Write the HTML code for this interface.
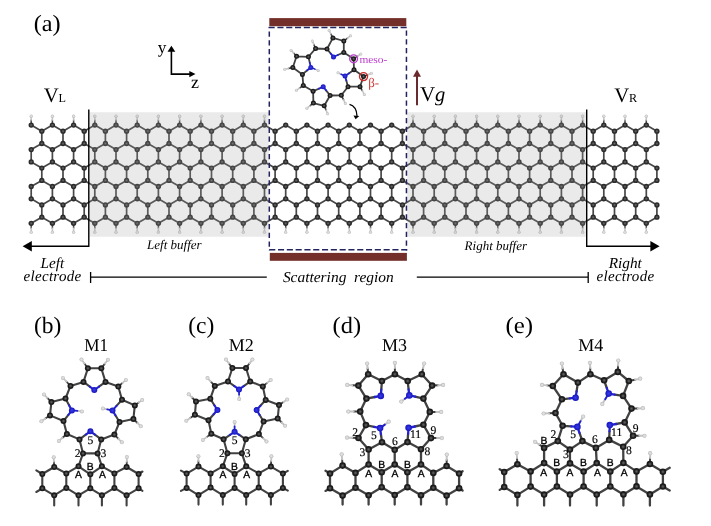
<!DOCTYPE html>
<html lang="en"><head><meta charset="utf-8"><title>Figure</title>
<style>
html,body{margin:0;padding:0;background:#fff}
body{width:711px;height:526px;overflow:hidden}
svg{display:block;will-change:transform}
text{white-space:pre;text-rendering:geometricPrecision}
.sf{font-family:"Liberation Serif",serif}
.ss{font-family:"Liberation Sans",sans-serif}
.it{font-style:italic}
.c circle{fill:url(#gc)}
.mm circle{fill:url(#gm)}
.nm circle{fill:url(#gn)}
.hm circle{fill:url(#gh)}
.mb circle{fill:url(#gm)}
.nb circle{fill:url(#gn)}
.hb circle{fill:url(#gh)}
.h circle{fill:url(#gh)}
.ms circle{fill:url(#gm)}
.ns circle{fill:url(#gn)}
.hs circle{fill:url(#gh)}
</style></head><body>
<svg width="711" height="526" viewBox="0 0 711 526" role="img" aria-label="Device schematic and molecule configurations M1 to M4">
<defs>
<radialGradient id="gc" cx="50%" cy="50%" r="50%"><stop offset="0" stop-color="#6c6c6c"/><stop offset="0.3" stop-color="#505050"/><stop offset="0.6" stop-color="#2c2c2c"/><stop offset="1" stop-color="#2a2a2a"/></radialGradient>
<radialGradient id="gm" cx="50%" cy="50%" r="50%"><stop offset="0" stop-color="#646464"/><stop offset="0.3" stop-color="#484848"/><stop offset="0.6" stop-color="#1e1e1e"/><stop offset="1" stop-color="#181818"/></radialGradient>
<radialGradient id="gn" cx="50%" cy="50%" r="50%"><stop offset="0" stop-color="#3a3af0"/><stop offset="1" stop-color="#1616b8"/></radialGradient>
<radialGradient id="gh" cx="50%" cy="50%" r="50%"><stop offset="0" stop-color="#e6e6e6"/><stop offset="0.55" stop-color="#d6d6d6"/><stop offset="1" stop-color="#b4b4b4"/></radialGradient>
</defs>
<rect width="711" height="526" fill="#fff"/>
<path d="M31.2 125.1L41.8 131.2M52.4 125.1L63 131.2M52.4 125.1L41.8 131.2M73.6 125.1L84.2 131.2M73.6 125.1L63 131.2M94.8 125.1L105.4 131.2M94.8 125.1L84.2 131.2M116 125.1L126.6 131.2M116 125.1L105.4 131.2M137.2 125.1L147.8 131.2M137.2 125.1L126.6 131.2M158.4 125.1L169 131.2M158.4 125.1L147.8 131.2M179.6 125.1L190.2 131.2M179.6 125.1L169 131.2M200.9 125.1L211.5 131.2M200.9 125.1L190.2 131.2M222.1 125.1L232.7 131.2M222.1 125.1L211.5 131.2M243.3 125.1L253.9 131.2M243.3 125.1L232.7 131.2M264.5 125.1L275.1 131.2M264.5 125.1L253.9 131.2M285.7 125.1L296.3 131.2M285.7 125.1L275.1 131.2M306.9 125.1L317.5 131.2M306.9 125.1L296.3 131.2M328.1 125.1L338.7 131.2M328.1 125.1L317.5 131.2M349.3 125.1L359.9 131.2M349.3 125.1L338.7 131.2M370.5 125.1L381.1 131.2M370.5 125.1L359.9 131.2M391.7 125.1L402.4 131.2M391.7 125.1L381.1 131.2M413 125.1L423.6 131.2M413 125.1L402.4 131.2M434.2 125.1L444.8 131.2M434.2 125.1L423.6 131.2M455.4 125.1L466 131.2M455.4 125.1L444.8 131.2M476.6 125.1L487.2 131.2M476.6 125.1L466 131.2M497.8 125.1L508.4 131.2M497.8 125.1L487.2 131.2M519 125.1L529.6 131.2M519 125.1L508.4 131.2M540.2 125.1L550.8 131.2M540.2 125.1L529.6 131.2M561.4 125.1L572 131.2M561.4 125.1L550.8 131.2M582.6 125.1L593.2 131.2M582.6 125.1L572 131.2M603.8 125.1L614.5 131.2M603.8 125.1L593.2 131.2M625 125.1L635.7 131.2M625 125.1L614.5 131.2M646.3 125.1L656.9 131.2M646.3 125.1L635.7 131.2M41.8 131.2L41.8 143.5M63 131.2L63 143.5M84.2 131.2L84.2 143.5M105.4 131.2L105.4 143.5M126.6 131.2L126.6 143.5M147.8 131.2L147.8 143.5M169 131.2L169 143.5M190.2 131.2L190.2 143.5M211.5 131.2L211.5 143.5M232.7 131.2L232.7 143.5M253.9 131.2L253.9 143.5M275.1 131.2L275.1 143.5M296.3 131.2L296.3 143.5M317.5 131.2L317.5 143.5M338.7 131.2L338.7 143.5M359.9 131.2L359.9 143.5M381.1 131.2L381.1 143.5M402.4 131.2L402.4 143.5M423.6 131.2L423.6 143.5M444.8 131.2L444.8 143.5M466 131.2L466 143.5M487.2 131.2L487.2 143.5M508.4 131.2L508.4 143.5M529.6 131.2L529.6 143.5M550.8 131.2L550.8 143.5M572 131.2L572 143.5M593.2 131.2L593.2 143.5M614.5 131.2L614.5 143.5M635.7 131.2L635.7 143.5M656.9 131.2L656.9 143.5M41.8 143.5L31.2 149.6M41.8 143.5L52.4 149.6M63 143.5L52.4 149.6M63 143.5L73.6 149.6M84.2 143.5L73.6 149.6M84.2 143.5L94.8 149.6M105.4 143.5L94.8 149.6M105.4 143.5L116 149.6M126.6 143.5L116 149.6M126.6 143.5L137.2 149.6M147.8 143.5L137.2 149.6M147.8 143.5L158.4 149.6M169 143.5L158.4 149.6M169 143.5L179.6 149.6M190.2 143.5L179.6 149.6M190.2 143.5L200.9 149.6M211.5 143.5L200.9 149.6M211.5 143.5L222.1 149.6M232.7 143.5L222.1 149.6M232.7 143.5L243.3 149.6M253.9 143.5L243.3 149.6M253.9 143.5L264.5 149.6M275.1 143.5L264.5 149.6M275.1 143.5L285.7 149.6M296.3 143.5L285.7 149.6M296.3 143.5L306.9 149.6M317.5 143.5L306.9 149.6M317.5 143.5L328.1 149.6M338.7 143.5L328.1 149.6M338.7 143.5L349.3 149.6M359.9 143.5L349.3 149.6M359.9 143.5L370.5 149.6M381.1 143.5L370.5 149.6M381.1 143.5L391.7 149.6M402.4 143.5L391.7 149.6M402.4 143.5L413 149.6M423.6 143.5L413 149.6M423.6 143.5L434.2 149.6M444.8 143.5L434.2 149.6M444.8 143.5L455.4 149.6M466 143.5L455.4 149.6M466 143.5L476.6 149.6M487.2 143.5L476.6 149.6M487.2 143.5L497.8 149.6M508.4 143.5L497.8 149.6M508.4 143.5L519 149.6M529.6 143.5L519 149.6M529.6 143.5L540.2 149.6M550.8 143.5L540.2 149.6M550.8 143.5L561.4 149.6M572 143.5L561.4 149.6M572 143.5L582.6 149.6M593.2 143.5L582.6 149.6M593.2 143.5L603.8 149.6M614.5 143.5L603.8 149.6M614.5 143.5L625 149.6M635.7 143.5L625 149.6M635.7 143.5L646.3 149.6M656.9 143.5L646.3 149.6M31.2 149.6L31.2 161.9M52.4 149.6L52.4 161.9M73.6 149.6L73.6 161.9M94.8 149.6L94.8 161.9M116 149.6L116 161.9M137.2 149.6L137.2 161.9M158.4 149.6L158.4 161.9M179.6 149.6L179.6 161.9M200.9 149.6L200.9 161.9M222.1 149.6L222.1 161.9M243.3 149.6L243.3 161.9M264.5 149.6L264.5 161.9M285.7 149.6L285.7 161.9M306.9 149.6L306.9 161.9M328.1 149.6L328.1 161.9M349.3 149.6L349.3 161.9M370.5 149.6L370.5 161.9M391.7 149.6L391.7 161.9M413 149.6L413 161.9M434.2 149.6L434.2 161.9M455.4 149.6L455.4 161.9M476.6 149.6L476.6 161.9M497.8 149.6L497.8 161.9M519 149.6L519 161.9M540.2 149.6L540.2 161.9M561.4 149.6L561.4 161.9M582.6 149.6L582.6 161.9M603.8 149.6L603.8 161.9M625 149.6L625 161.9M646.3 149.6L646.3 161.9M31.2 161.9L41.8 168.1M52.4 161.9L63 168.1M52.4 161.9L41.8 168.1M73.6 161.9L84.2 168.1M73.6 161.9L63 168.1M94.8 161.9L105.4 168.1M94.8 161.9L84.2 168.1M116 161.9L126.6 168.1M116 161.9L105.4 168.1M137.2 161.9L147.8 168.1M137.2 161.9L126.6 168.1M158.4 161.9L169 168.1M158.4 161.9L147.8 168.1M179.6 161.9L190.2 168.1M179.6 161.9L169 168.1M200.9 161.9L211.5 168.1M200.9 161.9L190.2 168.1M222.1 161.9L232.7 168.1M222.1 161.9L211.5 168.1M243.3 161.9L253.9 168.1M243.3 161.9L232.7 168.1M264.5 161.9L275.1 168.1M264.5 161.9L253.9 168.1M285.7 161.9L296.3 168.1M285.7 161.9L275.1 168.1M306.9 161.9L317.5 168.1M306.9 161.9L296.3 168.1M328.1 161.9L338.7 168.1M328.1 161.9L317.5 168.1M349.3 161.9L359.9 168.1M349.3 161.9L338.7 168.1M370.5 161.9L381.1 168.1M370.5 161.9L359.9 168.1M391.7 161.9L402.4 168.1M391.7 161.9L381.1 168.1M413 161.9L423.6 168.1M413 161.9L402.4 168.1M434.2 161.9L444.8 168.1M434.2 161.9L423.6 168.1M455.4 161.9L466 168.1M455.4 161.9L444.8 168.1M476.6 161.9L487.2 168.1M476.6 161.9L466 168.1M497.8 161.9L508.4 168.1M497.8 161.9L487.2 168.1M519 161.9L529.6 168.1M519 161.9L508.4 168.1M540.2 161.9L550.8 168.1M540.2 161.9L529.6 168.1M561.4 161.9L572 168.1M561.4 161.9L550.8 168.1M582.6 161.9L593.2 168.1M582.6 161.9L572 168.1M603.8 161.9L614.5 168.1M603.8 161.9L593.2 168.1M625 161.9L635.7 168.1M625 161.9L614.5 168.1M646.3 161.9L656.9 168.1M646.3 161.9L635.7 168.1M41.8 168.1L41.8 180.4M63 168.1L63 180.4M84.2 168.1L84.2 180.4M105.4 168.1L105.4 180.4M126.6 168.1L126.6 180.4M147.8 168.1L147.8 180.4M169 168.1L169 180.4M190.2 168.1L190.2 180.4M211.5 168.1L211.5 180.4M232.7 168.1L232.7 180.4M253.9 168.1L253.9 180.4M275.1 168.1L275.1 180.4M296.3 168.1L296.3 180.4M317.5 168.1L317.5 180.4M338.7 168.1L338.7 180.4M359.9 168.1L359.9 180.4M381.1 168.1L381.1 180.4M402.4 168.1L402.4 180.4M423.6 168.1L423.6 180.4M444.8 168.1L444.8 180.4M466 168.1L466 180.4M487.2 168.1L487.2 180.4M508.4 168.1L508.4 180.4M529.6 168.1L529.6 180.4M550.8 168.1L550.8 180.4M572 168.1L572 180.4M593.2 168.1L593.2 180.4M614.5 168.1L614.5 180.4M635.7 168.1L635.7 180.4M656.9 168.1L656.9 180.4M41.8 180.4L31.2 186.5M41.8 180.4L52.4 186.5M63 180.4L52.4 186.5M63 180.4L73.6 186.5M84.2 180.4L73.6 186.5M84.2 180.4L94.8 186.5M105.4 180.4L94.8 186.5M105.4 180.4L116 186.5M126.6 180.4L116 186.5M126.6 180.4L137.2 186.5M147.8 180.4L137.2 186.5M147.8 180.4L158.4 186.5M169 180.4L158.4 186.5M169 180.4L179.6 186.5M190.2 180.4L179.6 186.5M190.2 180.4L200.9 186.5M211.5 180.4L200.9 186.5M211.5 180.4L222.1 186.5M232.7 180.4L222.1 186.5M232.7 180.4L243.3 186.5M253.9 180.4L243.3 186.5M253.9 180.4L264.5 186.5M275.1 180.4L264.5 186.5M275.1 180.4L285.7 186.5M296.3 180.4L285.7 186.5M296.3 180.4L306.9 186.5M317.5 180.4L306.9 186.5M317.5 180.4L328.1 186.5M338.7 180.4L328.1 186.5M338.7 180.4L349.3 186.5M359.9 180.4L349.3 186.5M359.9 180.4L370.5 186.5M381.1 180.4L370.5 186.5M381.1 180.4L391.7 186.5M402.4 180.4L391.7 186.5M402.4 180.4L413 186.5M423.6 180.4L413 186.5M423.6 180.4L434.2 186.5M444.8 180.4L434.2 186.5M444.8 180.4L455.4 186.5M466 180.4L455.4 186.5M466 180.4L476.6 186.5M487.2 180.4L476.6 186.5M487.2 180.4L497.8 186.5M508.4 180.4L497.8 186.5M508.4 180.4L519 186.5M529.6 180.4L519 186.5M529.6 180.4L540.2 186.5M550.8 180.4L540.2 186.5M550.8 180.4L561.4 186.5M572 180.4L561.4 186.5M572 180.4L582.6 186.5M593.2 180.4L582.6 186.5M593.2 180.4L603.8 186.5M614.5 180.4L603.8 186.5M614.5 180.4L625 186.5M635.7 180.4L625 186.5M635.7 180.4L646.3 186.5M656.9 180.4L646.3 186.5M31.2 186.5L31.2 198.8M52.4 186.5L52.4 198.8M73.6 186.5L73.6 198.8M94.8 186.5L94.8 198.8M116 186.5L116 198.8M137.2 186.5L137.2 198.8M158.4 186.5L158.4 198.8M179.6 186.5L179.6 198.8M200.9 186.5L200.9 198.8M222.1 186.5L222.1 198.8M243.3 186.5L243.3 198.8M264.5 186.5L264.5 198.8M285.7 186.5L285.7 198.8M306.9 186.5L306.9 198.8M328.1 186.5L328.1 198.8M349.3 186.5L349.3 198.8M370.5 186.5L370.5 198.8M391.7 186.5L391.7 198.8M413 186.5L413 198.8M434.2 186.5L434.2 198.8M455.4 186.5L455.4 198.8M476.6 186.5L476.6 198.8M497.8 186.5L497.8 198.8M519 186.5L519 198.8M540.2 186.5L540.2 198.8M561.4 186.5L561.4 198.8M582.6 186.5L582.6 198.8M603.8 186.5L603.8 198.8M625 186.5L625 198.8M646.3 186.5L646.3 198.8M31.2 198.8L41.8 204.9M52.4 198.8L63 204.9M52.4 198.8L41.8 204.9M73.6 198.8L84.2 204.9M73.6 198.8L63 204.9M94.8 198.8L105.4 204.9M94.8 198.8L84.2 204.9M116 198.8L126.6 204.9M116 198.8L105.4 204.9M137.2 198.8L147.8 204.9M137.2 198.8L126.6 204.9M158.4 198.8L169 204.9M158.4 198.8L147.8 204.9M179.6 198.8L190.2 204.9M179.6 198.8L169 204.9M200.9 198.8L211.5 204.9M200.9 198.8L190.2 204.9M222.1 198.8L232.7 204.9M222.1 198.8L211.5 204.9M243.3 198.8L253.9 204.9M243.3 198.8L232.7 204.9M264.5 198.8L275.1 204.9M264.5 198.8L253.9 204.9M285.7 198.8L296.3 204.9M285.7 198.8L275.1 204.9M306.9 198.8L317.5 204.9M306.9 198.8L296.3 204.9M328.1 198.8L338.7 204.9M328.1 198.8L317.5 204.9M349.3 198.8L359.9 204.9M349.3 198.8L338.7 204.9M370.5 198.8L381.1 204.9M370.5 198.8L359.9 204.9M391.7 198.8L402.4 204.9M391.7 198.8L381.1 204.9M413 198.8L423.6 204.9M413 198.8L402.4 204.9M434.2 198.8L444.8 204.9M434.2 198.8L423.6 204.9M455.4 198.8L466 204.9M455.4 198.8L444.8 204.9M476.6 198.8L487.2 204.9M476.6 198.8L466 204.9M497.8 198.8L508.4 204.9M497.8 198.8L487.2 204.9M519 198.8L529.6 204.9M519 198.8L508.4 204.9M540.2 198.8L550.8 204.9M540.2 198.8L529.6 204.9M561.4 198.8L572 204.9M561.4 198.8L550.8 204.9M582.6 198.8L593.2 204.9M582.6 198.8L572 204.9M603.8 198.8L614.5 204.9M603.8 198.8L593.2 204.9M625 198.8L635.7 204.9M625 198.8L614.5 204.9M646.3 198.8L656.9 204.9M646.3 198.8L635.7 204.9M41.8 204.9L41.8 217.2M63 204.9L63 217.2M84.2 204.9L84.2 217.2M105.4 204.9L105.4 217.2M126.6 204.9L126.6 217.2M147.8 204.9L147.8 217.2M169 204.9L169 217.2M190.2 204.9L190.2 217.2M211.5 204.9L211.5 217.2M232.7 204.9L232.7 217.2M253.9 204.9L253.9 217.2M275.1 204.9L275.1 217.2M296.3 204.9L296.3 217.2M317.5 204.9L317.5 217.2M338.7 204.9L338.7 217.2M359.9 204.9L359.9 217.2M381.1 204.9L381.1 217.2M402.4 204.9L402.4 217.2M423.6 204.9L423.6 217.2M444.8 204.9L444.8 217.2M466 204.9L466 217.2M487.2 204.9L487.2 217.2M508.4 204.9L508.4 217.2M529.6 204.9L529.6 217.2M550.8 204.9L550.8 217.2M572 204.9L572 217.2M593.2 204.9L593.2 217.2M614.5 204.9L614.5 217.2M635.7 204.9L635.7 217.2M656.9 204.9L656.9 217.2M41.8 217.2L31.2 223.3M41.8 217.2L52.4 223.3M63 217.2L52.4 223.3M63 217.2L73.6 223.3M84.2 217.2L73.6 223.3M84.2 217.2L94.8 223.3M105.4 217.2L94.8 223.3M105.4 217.2L116 223.3M126.6 217.2L116 223.3M126.6 217.2L137.2 223.3M147.8 217.2L137.2 223.3M147.8 217.2L158.4 223.3M169 217.2L158.4 223.3M169 217.2L179.6 223.3M190.2 217.2L179.6 223.3M190.2 217.2L200.9 223.3M211.5 217.2L200.9 223.3M211.5 217.2L222.1 223.3M232.7 217.2L222.1 223.3M232.7 217.2L243.3 223.3M253.9 217.2L243.3 223.3M253.9 217.2L264.5 223.3M275.1 217.2L264.5 223.3M275.1 217.2L285.7 223.3M296.3 217.2L285.7 223.3M296.3 217.2L306.9 223.3M317.5 217.2L306.9 223.3M317.5 217.2L328.1 223.3M338.7 217.2L328.1 223.3M338.7 217.2L349.3 223.3M359.9 217.2L349.3 223.3M359.9 217.2L370.5 223.3M381.1 217.2L370.5 223.3M381.1 217.2L391.7 223.3M402.4 217.2L391.7 223.3M402.4 217.2L413 223.3M423.6 217.2L413 223.3M423.6 217.2L434.2 223.3M444.8 217.2L434.2 223.3M444.8 217.2L455.4 223.3M466 217.2L455.4 223.3M466 217.2L476.6 223.3M487.2 217.2L476.6 223.3M487.2 217.2L497.8 223.3M508.4 217.2L497.8 223.3M508.4 217.2L519 223.3M529.6 217.2L519 223.3M529.6 217.2L540.2 223.3M550.8 217.2L540.2 223.3M550.8 217.2L561.4 223.3M572 217.2L561.4 223.3M572 217.2L582.6 223.3M593.2 217.2L582.6 223.3M593.2 217.2L603.8 223.3M614.5 217.2L603.8 223.3M614.5 217.2L625 223.3M635.7 217.2L625 223.3M635.7 217.2L646.3 223.3M656.9 217.2L646.3 223.3" stroke="#484848" stroke-width="1.7" fill="none" stroke-linecap="round"/>
<path d="M31.2 125.1L31.2 120.1M31.2 223.3L31.2 228.3M52.4 125.1L52.4 120.1M52.4 223.3L52.4 228.3M73.6 125.1L73.6 120.1M73.6 223.3L73.6 228.3M94.8 125.1L94.8 120.1M94.8 223.3L94.8 228.3M116 125.1L116 120.1M116 223.3L116 228.3M137.2 125.1L137.2 120.1M137.2 223.3L137.2 228.3M158.4 125.1L158.4 120.1M158.4 223.3L158.4 228.3M179.6 125.1L179.6 120.1M179.6 223.3L179.6 228.3M200.9 125.1L200.9 120.1M200.9 223.3L200.9 228.3M222.1 125.1L222.1 120.1M222.1 223.3L222.1 228.3M243.3 125.1L243.3 120.1M243.3 223.3L243.3 228.3M264.5 125.1L264.5 120.1M264.5 223.3L264.5 228.3M285.7 223.3L285.7 228.3M306.9 223.3L306.9 228.3M328.1 223.3L328.1 228.3M349.3 223.3L349.3 228.3M370.5 223.3L370.5 228.3M391.7 223.3L391.7 228.3M413 125.1L413 120.1M413 223.3L413 228.3M434.2 125.1L434.2 120.1M434.2 223.3L434.2 228.3M455.4 125.1L455.4 120.1M455.4 223.3L455.4 228.3M476.6 125.1L476.6 120.1M476.6 223.3L476.6 228.3M497.8 125.1L497.8 120.1M497.8 223.3L497.8 228.3M519 125.1L519 120.1M519 223.3L519 228.3M540.2 125.1L540.2 120.1M540.2 223.3L540.2 228.3M561.4 125.1L561.4 120.1M561.4 223.3L561.4 228.3M582.6 125.1L582.6 120.1M582.6 223.3L582.6 228.3M603.8 125.1L603.8 120.1M603.8 223.3L603.8 228.3M625 125.1L625 120.1M625 223.3L625 228.3M646.3 125.1L646.3 120.1M646.3 223.3L646.3 228.3" stroke="#4a4a4a" stroke-width="1.5" fill="none" stroke-linecap="round"/>
<path d="M31.2 120.1L31.2 117.1M31.2 228.3L31.2 231.3M52.4 120.1L52.4 117.1M52.4 228.3L52.4 231.3M73.6 120.1L73.6 117.1M73.6 228.3L73.6 231.3M94.8 120.1L94.8 117.1M94.8 228.3L94.8 231.3M116 120.1L116 117.1M116 228.3L116 231.3M137.2 120.1L137.2 117.1M137.2 228.3L137.2 231.3M158.4 120.1L158.4 117.1M158.4 228.3L158.4 231.3M179.6 120.1L179.6 117.1M179.6 228.3L179.6 231.3M200.9 120.1L200.9 117.1M200.9 228.3L200.9 231.3M222.1 120.1L222.1 117.1M222.1 228.3L222.1 231.3M243.3 120.1L243.3 117.1M243.3 228.3L243.3 231.3M264.5 120.1L264.5 117.1M264.5 228.3L264.5 231.3M285.7 228.3L285.7 231.3M306.9 228.3L306.9 231.3M328.1 228.3L328.1 231.3M349.3 228.3L349.3 231.3M370.5 228.3L370.5 231.3M391.7 228.3L391.7 231.3M413 120.1L413 117.1M413 228.3L413 231.3M434.2 120.1L434.2 117.1M434.2 228.3L434.2 231.3M455.4 120.1L455.4 117.1M455.4 228.3L455.4 231.3M476.6 120.1L476.6 117.1M476.6 228.3L476.6 231.3M497.8 120.1L497.8 117.1M497.8 228.3L497.8 231.3M519 120.1L519 117.1M519 228.3L519 231.3M540.2 120.1L540.2 117.1M540.2 228.3L540.2 231.3M561.4 120.1L561.4 117.1M561.4 228.3L561.4 231.3M582.6 120.1L582.6 117.1M582.6 228.3L582.6 231.3M603.8 120.1L603.8 117.1M603.8 228.3L603.8 231.3M625 120.1L625 117.1M625 228.3L625 231.3M646.3 120.1L646.3 117.1M646.3 228.3L646.3 231.3" stroke="#c4c4c4" stroke-width="1.5" fill="none" stroke-linecap="round"/>
<g class="h"><circle cx="31.2" cy="116.2" r="1.6"/><circle cx="31.2" cy="232.2" r="1.6"/><circle cx="52.4" cy="116.2" r="1.6"/><circle cx="52.4" cy="232.2" r="1.6"/><circle cx="73.6" cy="116.2" r="1.6"/><circle cx="73.6" cy="232.2" r="1.6"/><circle cx="94.8" cy="116.2" r="1.6"/><circle cx="94.8" cy="232.2" r="1.6"/><circle cx="116" cy="116.2" r="1.6"/><circle cx="116" cy="232.2" r="1.6"/><circle cx="137.2" cy="116.2" r="1.6"/><circle cx="137.2" cy="232.2" r="1.6"/><circle cx="158.4" cy="116.2" r="1.6"/><circle cx="158.4" cy="232.2" r="1.6"/><circle cx="179.6" cy="116.2" r="1.6"/><circle cx="179.6" cy="232.2" r="1.6"/><circle cx="200.9" cy="116.2" r="1.6"/><circle cx="200.9" cy="232.2" r="1.6"/><circle cx="222.1" cy="116.2" r="1.6"/><circle cx="222.1" cy="232.2" r="1.6"/><circle cx="243.3" cy="116.2" r="1.6"/><circle cx="243.3" cy="232.2" r="1.6"/><circle cx="264.5" cy="116.2" r="1.6"/><circle cx="264.5" cy="232.2" r="1.6"/><circle cx="285.7" cy="232.2" r="1.6"/><circle cx="306.9" cy="232.2" r="1.6"/><circle cx="328.1" cy="232.2" r="1.6"/><circle cx="349.3" cy="232.2" r="1.6"/><circle cx="370.5" cy="232.2" r="1.6"/><circle cx="391.7" cy="232.2" r="1.6"/><circle cx="413" cy="116.2" r="1.6"/><circle cx="413" cy="232.2" r="1.6"/><circle cx="434.2" cy="116.2" r="1.6"/><circle cx="434.2" cy="232.2" r="1.6"/><circle cx="455.4" cy="116.2" r="1.6"/><circle cx="455.4" cy="232.2" r="1.6"/><circle cx="476.6" cy="116.2" r="1.6"/><circle cx="476.6" cy="232.2" r="1.6"/><circle cx="497.8" cy="116.2" r="1.6"/><circle cx="497.8" cy="232.2" r="1.6"/><circle cx="519" cy="116.2" r="1.6"/><circle cx="519" cy="232.2" r="1.6"/><circle cx="540.2" cy="116.2" r="1.6"/><circle cx="540.2" cy="232.2" r="1.6"/><circle cx="561.4" cy="116.2" r="1.6"/><circle cx="561.4" cy="232.2" r="1.6"/><circle cx="582.6" cy="116.2" r="1.6"/><circle cx="582.6" cy="232.2" r="1.6"/><circle cx="603.8" cy="116.2" r="1.6"/><circle cx="603.8" cy="232.2" r="1.6"/><circle cx="625" cy="116.2" r="1.6"/><circle cx="625" cy="232.2" r="1.6"/><circle cx="646.3" cy="116.2" r="1.6"/><circle cx="646.3" cy="232.2" r="1.6"/></g>
<g class="c"><circle cx="31.2" cy="125.1" r="2.65"/><circle cx="52.4" cy="125.1" r="2.65"/><circle cx="73.6" cy="125.1" r="2.65"/><circle cx="94.8" cy="125.1" r="2.65"/><circle cx="116" cy="125.1" r="2.65"/><circle cx="137.2" cy="125.1" r="2.65"/><circle cx="158.4" cy="125.1" r="2.65"/><circle cx="179.6" cy="125.1" r="2.65"/><circle cx="200.9" cy="125.1" r="2.65"/><circle cx="222.1" cy="125.1" r="2.65"/><circle cx="243.3" cy="125.1" r="2.65"/><circle cx="264.5" cy="125.1" r="2.65"/><circle cx="285.7" cy="125.1" r="2.65"/><circle cx="306.9" cy="125.1" r="2.65"/><circle cx="328.1" cy="125.1" r="2.65"/><circle cx="349.3" cy="125.1" r="2.65"/><circle cx="370.5" cy="125.1" r="2.65"/><circle cx="391.7" cy="125.1" r="2.65"/><circle cx="413" cy="125.1" r="2.65"/><circle cx="434.2" cy="125.1" r="2.65"/><circle cx="455.4" cy="125.1" r="2.65"/><circle cx="476.6" cy="125.1" r="2.65"/><circle cx="497.8" cy="125.1" r="2.65"/><circle cx="519" cy="125.1" r="2.65"/><circle cx="540.2" cy="125.1" r="2.65"/><circle cx="561.4" cy="125.1" r="2.65"/><circle cx="582.6" cy="125.1" r="2.65"/><circle cx="603.8" cy="125.1" r="2.65"/><circle cx="625" cy="125.1" r="2.65"/><circle cx="646.3" cy="125.1" r="2.65"/><circle cx="41.8" cy="131.2" r="2.65"/><circle cx="63" cy="131.2" r="2.65"/><circle cx="84.2" cy="131.2" r="2.65"/><circle cx="105.4" cy="131.2" r="2.65"/><circle cx="126.6" cy="131.2" r="2.65"/><circle cx="147.8" cy="131.2" r="2.65"/><circle cx="169" cy="131.2" r="2.65"/><circle cx="190.2" cy="131.2" r="2.65"/><circle cx="211.5" cy="131.2" r="2.65"/><circle cx="232.7" cy="131.2" r="2.65"/><circle cx="253.9" cy="131.2" r="2.65"/><circle cx="275.1" cy="131.2" r="2.65"/><circle cx="296.3" cy="131.2" r="2.65"/><circle cx="317.5" cy="131.2" r="2.65"/><circle cx="338.7" cy="131.2" r="2.65"/><circle cx="359.9" cy="131.2" r="2.65"/><circle cx="381.1" cy="131.2" r="2.65"/><circle cx="402.4" cy="131.2" r="2.65"/><circle cx="423.6" cy="131.2" r="2.65"/><circle cx="444.8" cy="131.2" r="2.65"/><circle cx="466" cy="131.2" r="2.65"/><circle cx="487.2" cy="131.2" r="2.65"/><circle cx="508.4" cy="131.2" r="2.65"/><circle cx="529.6" cy="131.2" r="2.65"/><circle cx="550.8" cy="131.2" r="2.65"/><circle cx="572" cy="131.2" r="2.65"/><circle cx="593.2" cy="131.2" r="2.65"/><circle cx="614.5" cy="131.2" r="2.65"/><circle cx="635.7" cy="131.2" r="2.65"/><circle cx="656.9" cy="131.2" r="2.65"/><circle cx="41.8" cy="143.5" r="2.65"/><circle cx="63" cy="143.5" r="2.65"/><circle cx="84.2" cy="143.5" r="2.65"/><circle cx="105.4" cy="143.5" r="2.65"/><circle cx="126.6" cy="143.5" r="2.65"/><circle cx="147.8" cy="143.5" r="2.65"/><circle cx="169" cy="143.5" r="2.65"/><circle cx="190.2" cy="143.5" r="2.65"/><circle cx="211.5" cy="143.5" r="2.65"/><circle cx="232.7" cy="143.5" r="2.65"/><circle cx="253.9" cy="143.5" r="2.65"/><circle cx="275.1" cy="143.5" r="2.65"/><circle cx="296.3" cy="143.5" r="2.65"/><circle cx="317.5" cy="143.5" r="2.65"/><circle cx="338.7" cy="143.5" r="2.65"/><circle cx="359.9" cy="143.5" r="2.65"/><circle cx="381.1" cy="143.5" r="2.65"/><circle cx="402.4" cy="143.5" r="2.65"/><circle cx="423.6" cy="143.5" r="2.65"/><circle cx="444.8" cy="143.5" r="2.65"/><circle cx="466" cy="143.5" r="2.65"/><circle cx="487.2" cy="143.5" r="2.65"/><circle cx="508.4" cy="143.5" r="2.65"/><circle cx="529.6" cy="143.5" r="2.65"/><circle cx="550.8" cy="143.5" r="2.65"/><circle cx="572" cy="143.5" r="2.65"/><circle cx="593.2" cy="143.5" r="2.65"/><circle cx="614.5" cy="143.5" r="2.65"/><circle cx="635.7" cy="143.5" r="2.65"/><circle cx="656.9" cy="143.5" r="2.65"/><circle cx="31.2" cy="149.6" r="2.65"/><circle cx="52.4" cy="149.6" r="2.65"/><circle cx="73.6" cy="149.6" r="2.65"/><circle cx="94.8" cy="149.6" r="2.65"/><circle cx="116" cy="149.6" r="2.65"/><circle cx="137.2" cy="149.6" r="2.65"/><circle cx="158.4" cy="149.6" r="2.65"/><circle cx="179.6" cy="149.6" r="2.65"/><circle cx="200.9" cy="149.6" r="2.65"/><circle cx="222.1" cy="149.6" r="2.65"/><circle cx="243.3" cy="149.6" r="2.65"/><circle cx="264.5" cy="149.6" r="2.65"/><circle cx="285.7" cy="149.6" r="2.65"/><circle cx="306.9" cy="149.6" r="2.65"/><circle cx="328.1" cy="149.6" r="2.65"/><circle cx="349.3" cy="149.6" r="2.65"/><circle cx="370.5" cy="149.6" r="2.65"/><circle cx="391.7" cy="149.6" r="2.65"/><circle cx="413" cy="149.6" r="2.65"/><circle cx="434.2" cy="149.6" r="2.65"/><circle cx="455.4" cy="149.6" r="2.65"/><circle cx="476.6" cy="149.6" r="2.65"/><circle cx="497.8" cy="149.6" r="2.65"/><circle cx="519" cy="149.6" r="2.65"/><circle cx="540.2" cy="149.6" r="2.65"/><circle cx="561.4" cy="149.6" r="2.65"/><circle cx="582.6" cy="149.6" r="2.65"/><circle cx="603.8" cy="149.6" r="2.65"/><circle cx="625" cy="149.6" r="2.65"/><circle cx="646.3" cy="149.6" r="2.65"/><circle cx="31.2" cy="161.9" r="2.65"/><circle cx="52.4" cy="161.9" r="2.65"/><circle cx="73.6" cy="161.9" r="2.65"/><circle cx="94.8" cy="161.9" r="2.65"/><circle cx="116" cy="161.9" r="2.65"/><circle cx="137.2" cy="161.9" r="2.65"/><circle cx="158.4" cy="161.9" r="2.65"/><circle cx="179.6" cy="161.9" r="2.65"/><circle cx="200.9" cy="161.9" r="2.65"/><circle cx="222.1" cy="161.9" r="2.65"/><circle cx="243.3" cy="161.9" r="2.65"/><circle cx="264.5" cy="161.9" r="2.65"/><circle cx="285.7" cy="161.9" r="2.65"/><circle cx="306.9" cy="161.9" r="2.65"/><circle cx="328.1" cy="161.9" r="2.65"/><circle cx="349.3" cy="161.9" r="2.65"/><circle cx="370.5" cy="161.9" r="2.65"/><circle cx="391.7" cy="161.9" r="2.65"/><circle cx="413" cy="161.9" r="2.65"/><circle cx="434.2" cy="161.9" r="2.65"/><circle cx="455.4" cy="161.9" r="2.65"/><circle cx="476.6" cy="161.9" r="2.65"/><circle cx="497.8" cy="161.9" r="2.65"/><circle cx="519" cy="161.9" r="2.65"/><circle cx="540.2" cy="161.9" r="2.65"/><circle cx="561.4" cy="161.9" r="2.65"/><circle cx="582.6" cy="161.9" r="2.65"/><circle cx="603.8" cy="161.9" r="2.65"/><circle cx="625" cy="161.9" r="2.65"/><circle cx="646.3" cy="161.9" r="2.65"/><circle cx="41.8" cy="168.1" r="2.65"/><circle cx="63" cy="168.1" r="2.65"/><circle cx="84.2" cy="168.1" r="2.65"/><circle cx="105.4" cy="168.1" r="2.65"/><circle cx="126.6" cy="168.1" r="2.65"/><circle cx="147.8" cy="168.1" r="2.65"/><circle cx="169" cy="168.1" r="2.65"/><circle cx="190.2" cy="168.1" r="2.65"/><circle cx="211.5" cy="168.1" r="2.65"/><circle cx="232.7" cy="168.1" r="2.65"/><circle cx="253.9" cy="168.1" r="2.65"/><circle cx="275.1" cy="168.1" r="2.65"/><circle cx="296.3" cy="168.1" r="2.65"/><circle cx="317.5" cy="168.1" r="2.65"/><circle cx="338.7" cy="168.1" r="2.65"/><circle cx="359.9" cy="168.1" r="2.65"/><circle cx="381.1" cy="168.1" r="2.65"/><circle cx="402.4" cy="168.1" r="2.65"/><circle cx="423.6" cy="168.1" r="2.65"/><circle cx="444.8" cy="168.1" r="2.65"/><circle cx="466" cy="168.1" r="2.65"/><circle cx="487.2" cy="168.1" r="2.65"/><circle cx="508.4" cy="168.1" r="2.65"/><circle cx="529.6" cy="168.1" r="2.65"/><circle cx="550.8" cy="168.1" r="2.65"/><circle cx="572" cy="168.1" r="2.65"/><circle cx="593.2" cy="168.1" r="2.65"/><circle cx="614.5" cy="168.1" r="2.65"/><circle cx="635.7" cy="168.1" r="2.65"/><circle cx="656.9" cy="168.1" r="2.65"/><circle cx="41.8" cy="180.4" r="2.65"/><circle cx="63" cy="180.4" r="2.65"/><circle cx="84.2" cy="180.4" r="2.65"/><circle cx="105.4" cy="180.4" r="2.65"/><circle cx="126.6" cy="180.4" r="2.65"/><circle cx="147.8" cy="180.4" r="2.65"/><circle cx="169" cy="180.4" r="2.65"/><circle cx="190.2" cy="180.4" r="2.65"/><circle cx="211.5" cy="180.4" r="2.65"/><circle cx="232.7" cy="180.4" r="2.65"/><circle cx="253.9" cy="180.4" r="2.65"/><circle cx="275.1" cy="180.4" r="2.65"/><circle cx="296.3" cy="180.4" r="2.65"/><circle cx="317.5" cy="180.4" r="2.65"/><circle cx="338.7" cy="180.4" r="2.65"/><circle cx="359.9" cy="180.4" r="2.65"/><circle cx="381.1" cy="180.4" r="2.65"/><circle cx="402.4" cy="180.4" r="2.65"/><circle cx="423.6" cy="180.4" r="2.65"/><circle cx="444.8" cy="180.4" r="2.65"/><circle cx="466" cy="180.4" r="2.65"/><circle cx="487.2" cy="180.4" r="2.65"/><circle cx="508.4" cy="180.4" r="2.65"/><circle cx="529.6" cy="180.4" r="2.65"/><circle cx="550.8" cy="180.4" r="2.65"/><circle cx="572" cy="180.4" r="2.65"/><circle cx="593.2" cy="180.4" r="2.65"/><circle cx="614.5" cy="180.4" r="2.65"/><circle cx="635.7" cy="180.4" r="2.65"/><circle cx="656.9" cy="180.4" r="2.65"/><circle cx="31.2" cy="186.5" r="2.65"/><circle cx="52.4" cy="186.5" r="2.65"/><circle cx="73.6" cy="186.5" r="2.65"/><circle cx="94.8" cy="186.5" r="2.65"/><circle cx="116" cy="186.5" r="2.65"/><circle cx="137.2" cy="186.5" r="2.65"/><circle cx="158.4" cy="186.5" r="2.65"/><circle cx="179.6" cy="186.5" r="2.65"/><circle cx="200.9" cy="186.5" r="2.65"/><circle cx="222.1" cy="186.5" r="2.65"/><circle cx="243.3" cy="186.5" r="2.65"/><circle cx="264.5" cy="186.5" r="2.65"/><circle cx="285.7" cy="186.5" r="2.65"/><circle cx="306.9" cy="186.5" r="2.65"/><circle cx="328.1" cy="186.5" r="2.65"/><circle cx="349.3" cy="186.5" r="2.65"/><circle cx="370.5" cy="186.5" r="2.65"/><circle cx="391.7" cy="186.5" r="2.65"/><circle cx="413" cy="186.5" r="2.65"/><circle cx="434.2" cy="186.5" r="2.65"/><circle cx="455.4" cy="186.5" r="2.65"/><circle cx="476.6" cy="186.5" r="2.65"/><circle cx="497.8" cy="186.5" r="2.65"/><circle cx="519" cy="186.5" r="2.65"/><circle cx="540.2" cy="186.5" r="2.65"/><circle cx="561.4" cy="186.5" r="2.65"/><circle cx="582.6" cy="186.5" r="2.65"/><circle cx="603.8" cy="186.5" r="2.65"/><circle cx="625" cy="186.5" r="2.65"/><circle cx="646.3" cy="186.5" r="2.65"/><circle cx="31.2" cy="198.8" r="2.65"/><circle cx="52.4" cy="198.8" r="2.65"/><circle cx="73.6" cy="198.8" r="2.65"/><circle cx="94.8" cy="198.8" r="2.65"/><circle cx="116" cy="198.8" r="2.65"/><circle cx="137.2" cy="198.8" r="2.65"/><circle cx="158.4" cy="198.8" r="2.65"/><circle cx="179.6" cy="198.8" r="2.65"/><circle cx="200.9" cy="198.8" r="2.65"/><circle cx="222.1" cy="198.8" r="2.65"/><circle cx="243.3" cy="198.8" r="2.65"/><circle cx="264.5" cy="198.8" r="2.65"/><circle cx="285.7" cy="198.8" r="2.65"/><circle cx="306.9" cy="198.8" r="2.65"/><circle cx="328.1" cy="198.8" r="2.65"/><circle cx="349.3" cy="198.8" r="2.65"/><circle cx="370.5" cy="198.8" r="2.65"/><circle cx="391.7" cy="198.8" r="2.65"/><circle cx="413" cy="198.8" r="2.65"/><circle cx="434.2" cy="198.8" r="2.65"/><circle cx="455.4" cy="198.8" r="2.65"/><circle cx="476.6" cy="198.8" r="2.65"/><circle cx="497.8" cy="198.8" r="2.65"/><circle cx="519" cy="198.8" r="2.65"/><circle cx="540.2" cy="198.8" r="2.65"/><circle cx="561.4" cy="198.8" r="2.65"/><circle cx="582.6" cy="198.8" r="2.65"/><circle cx="603.8" cy="198.8" r="2.65"/><circle cx="625" cy="198.8" r="2.65"/><circle cx="646.3" cy="198.8" r="2.65"/><circle cx="41.8" cy="204.9" r="2.65"/><circle cx="63" cy="204.9" r="2.65"/><circle cx="84.2" cy="204.9" r="2.65"/><circle cx="105.4" cy="204.9" r="2.65"/><circle cx="126.6" cy="204.9" r="2.65"/><circle cx="147.8" cy="204.9" r="2.65"/><circle cx="169" cy="204.9" r="2.65"/><circle cx="190.2" cy="204.9" r="2.65"/><circle cx="211.5" cy="204.9" r="2.65"/><circle cx="232.7" cy="204.9" r="2.65"/><circle cx="253.9" cy="204.9" r="2.65"/><circle cx="275.1" cy="204.9" r="2.65"/><circle cx="296.3" cy="204.9" r="2.65"/><circle cx="317.5" cy="204.9" r="2.65"/><circle cx="338.7" cy="204.9" r="2.65"/><circle cx="359.9" cy="204.9" r="2.65"/><circle cx="381.1" cy="204.9" r="2.65"/><circle cx="402.4" cy="204.9" r="2.65"/><circle cx="423.6" cy="204.9" r="2.65"/><circle cx="444.8" cy="204.9" r="2.65"/><circle cx="466" cy="204.9" r="2.65"/><circle cx="487.2" cy="204.9" r="2.65"/><circle cx="508.4" cy="204.9" r="2.65"/><circle cx="529.6" cy="204.9" r="2.65"/><circle cx="550.8" cy="204.9" r="2.65"/><circle cx="572" cy="204.9" r="2.65"/><circle cx="593.2" cy="204.9" r="2.65"/><circle cx="614.5" cy="204.9" r="2.65"/><circle cx="635.7" cy="204.9" r="2.65"/><circle cx="656.9" cy="204.9" r="2.65"/><circle cx="41.8" cy="217.2" r="2.65"/><circle cx="63" cy="217.2" r="2.65"/><circle cx="84.2" cy="217.2" r="2.65"/><circle cx="105.4" cy="217.2" r="2.65"/><circle cx="126.6" cy="217.2" r="2.65"/><circle cx="147.8" cy="217.2" r="2.65"/><circle cx="169" cy="217.2" r="2.65"/><circle cx="190.2" cy="217.2" r="2.65"/><circle cx="211.5" cy="217.2" r="2.65"/><circle cx="232.7" cy="217.2" r="2.65"/><circle cx="253.9" cy="217.2" r="2.65"/><circle cx="275.1" cy="217.2" r="2.65"/><circle cx="296.3" cy="217.2" r="2.65"/><circle cx="317.5" cy="217.2" r="2.65"/><circle cx="338.7" cy="217.2" r="2.65"/><circle cx="359.9" cy="217.2" r="2.65"/><circle cx="381.1" cy="217.2" r="2.65"/><circle cx="402.4" cy="217.2" r="2.65"/><circle cx="423.6" cy="217.2" r="2.65"/><circle cx="444.8" cy="217.2" r="2.65"/><circle cx="466" cy="217.2" r="2.65"/><circle cx="487.2" cy="217.2" r="2.65"/><circle cx="508.4" cy="217.2" r="2.65"/><circle cx="529.6" cy="217.2" r="2.65"/><circle cx="550.8" cy="217.2" r="2.65"/><circle cx="572" cy="217.2" r="2.65"/><circle cx="593.2" cy="217.2" r="2.65"/><circle cx="614.5" cy="217.2" r="2.65"/><circle cx="635.7" cy="217.2" r="2.65"/><circle cx="656.9" cy="217.2" r="2.65"/><circle cx="31.2" cy="223.3" r="2.65"/><circle cx="52.4" cy="223.3" r="2.65"/><circle cx="73.6" cy="223.3" r="2.65"/><circle cx="94.8" cy="223.3" r="2.65"/><circle cx="116" cy="223.3" r="2.65"/><circle cx="137.2" cy="223.3" r="2.65"/><circle cx="158.4" cy="223.3" r="2.65"/><circle cx="179.6" cy="223.3" r="2.65"/><circle cx="200.9" cy="223.3" r="2.65"/><circle cx="222.1" cy="223.3" r="2.65"/><circle cx="243.3" cy="223.3" r="2.65"/><circle cx="264.5" cy="223.3" r="2.65"/><circle cx="285.7" cy="223.3" r="2.65"/><circle cx="306.9" cy="223.3" r="2.65"/><circle cx="328.1" cy="223.3" r="2.65"/><circle cx="349.3" cy="223.3" r="2.65"/><circle cx="370.5" cy="223.3" r="2.65"/><circle cx="391.7" cy="223.3" r="2.65"/><circle cx="413" cy="223.3" r="2.65"/><circle cx="434.2" cy="223.3" r="2.65"/><circle cx="455.4" cy="223.3" r="2.65"/><circle cx="476.6" cy="223.3" r="2.65"/><circle cx="497.8" cy="223.3" r="2.65"/><circle cx="519" cy="223.3" r="2.65"/><circle cx="540.2" cy="223.3" r="2.65"/><circle cx="561.4" cy="223.3" r="2.65"/><circle cx="582.6" cy="223.3" r="2.65"/><circle cx="603.8" cy="223.3" r="2.65"/><circle cx="625" cy="223.3" r="2.65"/><circle cx="646.3" cy="223.3" r="2.65"/></g>
<path d="M89.6 112.2H268.8V236.8H89.6ZM407.2 112.2H586V236.8H407.2Z" fill="#a0a0a0" fill-opacity="0.22"/>
<g fill="none" stroke="#000" stroke-width="1.4">
<path d="M88.8 109.6V246.2H30"/>
<path d="M586.7 109.6V246.2H652"/>
</g>
<path d="M22.6 246.2L31.8 241V251.4Z" fill="#000"/>
<path d="M659.6 246.2L650.4 241V251.4Z" fill="#000"/>
<g fill="none" stroke="#000" stroke-width="1.3">
<path d="M90.6 272.1V283M90.6 277.2H266.8"/>
<path d="M588.2 272.1V283M588.2 277.2H416.8"/>
</g>
<rect x="269.3" y="18.1" width="137" height="8.1" fill="#742f2a"/>
<rect x="269.8" y="252.9" width="137.1" height="7.9" fill="#742f2a"/>
<g fill="none" stroke="#23235f" stroke-width="1.5">
<path d="M268.6 27.4H407.2M269.2 249.85H407.2" stroke-dasharray="6.1 2.7"/>
<path d="M269.3 27.4V250.5" stroke-dasharray="5.4 3.35" stroke-dashoffset="4.75"/>
<path d="M406.45 27.4V250.5" stroke-dasharray="5.4 3.35" stroke-dashoffset="5.75"/>
</g>
<path d="M332.9 37.9L343.8 41M343.8 41L343.8 52.4M343.8 52.4L337.8 55M327 49L330.8 53.6M327 49L332.9 37.9M315.6 48.5L327 49M315.6 48.5L308.4 56.8M308.4 56.8L296.6 56.3M296.6 56.3L292.8 67.5M292.8 67.5L302.4 74.4M302.4 74.4L307.3 70.3M308.4 56.8L309.8 62.9M303.3 85.4L302.4 74.4M303.3 85.4L313.1 91.2M313.1 91.2L319 88.6M330.1 95.5L326.1 90.4M330.1 95.5L324.2 105.8M324.2 105.8L313.4 103.1M313.4 103.1L313.1 91.2M341.3 95.3L330.1 95.5M341.3 95.3L348 86.7M354 69.7L348.8 73.4M348 86.7L346.3 80.5M348 86.7L360 86.7M360 86.7L363.5 76.5M363.5 76.5L354 69.7M353.6 58.8L343.8 52.4M353.6 58.8L354 69.7" stroke="#424242" stroke-width="1.8" fill="none" stroke-linecap="round"/>
<path d="M337.8 55L333.5 56.9M330.8 53.6L333.5 56.9M307.3 70.3L310.8 67.4M309.8 62.9L310.8 67.4M319 88.6L323.2 86.7M326.1 90.4L323.2 86.7M348.8 73.4L345 76M346.3 80.5L345 76" stroke="#2222d0" stroke-width="1.8" fill="none" stroke-linecap="round"/>
<path d="M332.9 37.9L330.8 33.8M343.8 41L347.5 38.1M315.6 48.5L313.8 44.4M296.6 56.3L293.6 53.1M292.8 67.5L288.3 68.5M303.3 85.4L299.5 88.1M313.4 103.1L309.8 105.9M324.2 105.8L326.1 110.1M341.3 95.3L343.6 99.9M363.5 76.5L367.8 74.7M360 86.7L362.4 90.9M353.6 58.8L357.6 56.1" stroke="#424242" stroke-width="1.53" fill="none" stroke-linecap="round"/>
<path d="M330.8 33.8L329.1 30.5M347.5 38.1L350.5 35.7M313.8 44.4L312.3 41M314.9 69.1L318.2 70.4M293.6 53.1L291.1 50.4M288.3 68.5L284.7 69.3M299.5 88.1L296.4 90.3M309.8 105.9L306.9 108.2M326.1 110.1L327.6 113.7M343.6 99.9L345.4 103.6M341.1 74.2L338 72.8M367.8 74.7L371.4 73.3M362.4 90.9L364.4 94.4M357.6 56.1L360.8 53.9" stroke="#c4c4c4" stroke-width="1.53" fill="none" stroke-linecap="round"/>
<path d="M310.8 67.4L314.9 69.1M345 76L341.1 74.2" stroke="#2222d0" stroke-width="1.53" fill="none" stroke-linecap="round"/>
<g class="hs"><circle cx="329.1" cy="30.5" r="1.5"/><circle cx="350.5" cy="35.7" r="1.5"/><circle cx="312.3" cy="41" r="1.5"/><circle cx="318.2" cy="70.4" r="1.5"/><circle cx="291.1" cy="50.4" r="1.5"/><circle cx="284.7" cy="69.3" r="1.5"/><circle cx="296.4" cy="90.3" r="1.5"/><circle cx="306.9" cy="108.2" r="1.5"/><circle cx="327.6" cy="113.7" r="1.5"/><circle cx="345.4" cy="103.6" r="1.5"/><circle cx="338" cy="72.8" r="1.5"/><circle cx="371.4" cy="73.3" r="1.5"/><circle cx="364.4" cy="94.4" r="1.5"/><circle cx="360.8" cy="53.9" r="1.5"/></g>
<g class="ms"><circle cx="332.9" cy="37.9" r="2.5"/><circle cx="343.8" cy="41" r="2.5"/><circle cx="343.8" cy="52.4" r="2.5"/><circle cx="327" cy="49" r="2.5"/><circle cx="315.6" cy="48.5" r="2.5"/><circle cx="308.4" cy="56.8" r="2.5"/><circle cx="296.6" cy="56.3" r="2.5"/><circle cx="292.8" cy="67.5" r="2.5"/><circle cx="302.4" cy="74.4" r="2.5"/><circle cx="303.3" cy="85.4" r="2.5"/><circle cx="313.1" cy="91.2" r="2.5"/><circle cx="330.1" cy="95.5" r="2.5"/><circle cx="324.2" cy="105.8" r="2.5"/><circle cx="313.4" cy="103.1" r="2.5"/><circle cx="341.3" cy="95.3" r="2.5"/><circle cx="354" cy="69.7" r="2.5"/><circle cx="363.5" cy="76.5" r="2.5"/><circle cx="348" cy="86.7" r="2.5"/><circle cx="360" cy="86.7" r="2.5"/><circle cx="353.6" cy="58.8" r="2.5"/></g>
<g class="ns"><circle cx="333.5" cy="56.9" r="2.5"/><circle cx="310.8" cy="67.4" r="2.5"/><circle cx="323.2" cy="86.7" r="2.5"/><circle cx="345" cy="76" r="2.5"/></g>
<circle cx="353.6" cy="58.8" r="3.9" fill="none" stroke="#b93acb" stroke-width="1.4"/>
<circle cx="363.5" cy="76.6" r="4" fill="none" stroke="#cc2a2a" stroke-width="1.4"/>
<path d="M349.5 104.4Q356.6 106.3 357 116" fill="none" stroke="#000" stroke-width="1.3"/>
<path d="M353.5 115.6L359.3 116L355.6 119.3Z" fill="#000"/>
<path d="M171.4 50V74.1H190" fill="none" stroke="#000" stroke-width="1.6"/>
<path d="M171.4 45.8L167.5 51.7H175.3Z" fill="#000"/>
<path d="M195.5 74.1L189.3 70.9V77.3Z" fill="#000"/>
<path d="M417 75V105.3" fill="none" stroke="#6b2a2e" stroke-width="2"/>
<path d="M417 69.5L413 76.8H421Z" fill="#6b2a2e"/>
<path d="M54.2 495.3L54.2 505.4M78.5 495.3L78.5 505.4M101.9 495.3L101.9 505.4M126.6 495.3L126.6 505.4M42.3 474L36.3 470.3M42.3 488.3L36.3 492M138.6 474L142.5 471.5M138.6 488.3L142.5 490.8M42.3 474L42.3 488.3M66.3 473.4L66.3 487.9M90.3 474.3L90.3 488.3M114.4 473.4L114.4 487.9M138.6 474L138.6 488.3M54.2 467L42.3 474M54.2 467L66.3 473.4M54.2 495.3L42.3 488.3M54.2 495.3L66.3 487.9M78.5 466.3L66.3 473.4M78.5 466.3L90.3 474.3M78.5 495.3L66.3 487.9M78.5 495.3L90.3 488.3M101.9 466.3L90.3 474.3M101.9 466.3L114.4 473.4M101.9 495.3L90.3 488.3M101.9 495.3L114.4 487.9M126.6 467L114.4 473.4M126.6 467L138.6 474M126.6 495.3L114.4 487.9M126.6 495.3L138.6 488.3M87.9 368.3L101.3 368.3M87.9 368.3L83.5 381.9M101.3 368.3L105.5 381.9M83.5 381.9L89.8 386.6M105.5 381.9L99 386.6M70.5 385.9L83.5 381.9M70.5 385.9L65.5 398.5M118.3 386.5L105.5 381.9M118.3 386.5L122 399.7M65.5 398.5L51.4 402.1M51.4 402.1L50 415.4M50 415.4L63.5 421M63.5 421L68.4 414.9M65.5 398.5L69.2 405.4M122 399.7L134.8 405.4M134.8 405.4L133.4 419M133.4 419L119.5 422M119.5 422L115.4 415.3M122 399.7L116.5 405.9M66.9 434L63.5 421M66.9 434L79.5 439.4M114.4 434.6L119.5 422M114.4 434.6L101.2 439.4M79.5 439.4L85.8 434.7M101.2 439.4L94.9 434.7M79.5 439.4L83 453.4M101.2 439.4L97.6 453.4M83 453.4L97.6 453.4M83 453.4L78.5 466.3M97.6 453.4L101.9 466.3" stroke="#424242" stroke-width="2.1" fill="none" stroke-linecap="round"/>
<path d="M54.2 467L53.9 461.6M126.6 467L126.8 461.5M87.9 368.3L84.4 363.5M101.3 368.3L104.9 363.6M70.5 385.9L66.3 381.5M118.3 386.5L122.5 382.9M51.4 402.1L47.3 397.9M50 415.4L45.3 418.6M134.8 405.4L138.9 402.4M133.4 419L137.5 423M66.9 434L62.5 437.8M114.4 434.6L118.5 438.8" stroke="#424242" stroke-width="1.785" fill="none" stroke-linecap="round"/>
<path d="M53.9 461.6L53.7 457.2M126.8 461.5L126.9 457M84.4 363.5L81.5 359.5M104.9 363.6L107.9 359.7M66.3 381.5L62.9 377.9M122.5 382.9L125.9 379.9M47.3 397.9L44 394.4M45.3 418.6L41.4 421.3M138.9 402.4L142.2 400M137.5 423L140.8 426.3M62.5 437.8L58.9 440.9M118.5 438.8L121.9 442.3M77.4 410.9L81.9 411.4M107.2 409.3L102.9 408.4" stroke="#c4c4c4" stroke-width="1.785" fill="none" stroke-linecap="round"/>
<path d="M89.8 386.6L94.3 390M99 386.6L94.3 390M68.4 414.9L71.9 410.4M69.2 405.4L71.9 410.4M115.4 415.3L112.5 410.4M116.5 405.9L112.5 410.4M85.8 434.7L90.4 431.3M94.9 434.7L90.4 431.3" stroke="#2222d0" stroke-width="2.1" fill="none" stroke-linecap="round"/>
<path d="M71.9 410.4L77.4 410.9M112.5 410.4L107.2 409.3" stroke="#2222d0" stroke-width="1.785" fill="none" stroke-linecap="round"/>
<g class="hm"><circle cx="53.7" cy="457.2" r="2"/><circle cx="126.9" cy="457" r="2"/><circle cx="81.5" cy="359.5" r="2"/><circle cx="107.9" cy="359.7" r="2"/><circle cx="62.9" cy="377.9" r="2"/><circle cx="125.9" cy="379.9" r="2"/><circle cx="44" cy="394.4" r="2"/><circle cx="41.4" cy="421.3" r="2"/><circle cx="142.2" cy="400" r="2"/><circle cx="140.8" cy="426.3" r="2"/><circle cx="58.9" cy="440.9" r="2"/><circle cx="121.9" cy="442.3" r="2"/><circle cx="81.9" cy="411.4" r="2"/><circle cx="102.9" cy="408.4" r="2"/></g>
<g class="mm"><circle cx="54.2" cy="467" r="3"/><circle cx="54.2" cy="495.3" r="3"/><circle cx="78.5" cy="466.3" r="3"/><circle cx="78.5" cy="495.3" r="3"/><circle cx="101.9" cy="466.3" r="3"/><circle cx="101.9" cy="495.3" r="3"/><circle cx="126.6" cy="467" r="3"/><circle cx="126.6" cy="495.3" r="3"/><circle cx="42.3" cy="474" r="3"/><circle cx="42.3" cy="488.3" r="3"/><circle cx="66.3" cy="473.4" r="3"/><circle cx="66.3" cy="487.9" r="3"/><circle cx="90.3" cy="474.3" r="3"/><circle cx="90.3" cy="488.3" r="3"/><circle cx="114.4" cy="473.4" r="3"/><circle cx="114.4" cy="487.9" r="3"/><circle cx="138.6" cy="474" r="3"/><circle cx="138.6" cy="488.3" r="3"/><circle cx="87.9" cy="368.3" r="3"/><circle cx="101.3" cy="368.3" r="3"/><circle cx="83.5" cy="381.9" r="3"/><circle cx="105.5" cy="381.9" r="3"/><circle cx="70.5" cy="385.9" r="3"/><circle cx="118.3" cy="386.5" r="3"/><circle cx="65.5" cy="398.5" r="3"/><circle cx="51.4" cy="402.1" r="3"/><circle cx="50" cy="415.4" r="3"/><circle cx="63.5" cy="421" r="3"/><circle cx="122" cy="399.7" r="3"/><circle cx="134.8" cy="405.4" r="3"/><circle cx="133.4" cy="419" r="3"/><circle cx="119.5" cy="422" r="3"/><circle cx="66.9" cy="434" r="3"/><circle cx="114.4" cy="434.6" r="3"/><circle cx="79.5" cy="439.4" r="3"/><circle cx="101.2" cy="439.4" r="3"/><circle cx="83" cy="453.4" r="3"/><circle cx="97.6" cy="453.4" r="3"/></g>
<g class="nm"><circle cx="94.3" cy="390" r="3"/><circle cx="71.9" cy="410.4" r="3"/><circle cx="112.5" cy="410.4" r="3"/><circle cx="90.4" cy="431.3" r="3"/></g>
<path d="M198.5 495.1L198.5 504.6M222.8 495.1L222.8 504.6M246.2 495.1L246.2 504.6M270.9 495.1L270.9 504.6M186.6 473.6L181 470.6M186.6 487.9L181 490.9M282.9 473.6L287.8 470.9M282.9 487.9L287.8 490.6M186.6 473.6L186.6 487.9M210.6 473.4L210.6 487.6M234.6 474L234.6 487.9M258.7 473.4L258.7 487.6M282.9 473.6L282.9 487.9M198.5 466.6L186.6 473.6M198.5 466.6L210.6 473.4M198.5 495.1L186.6 487.9M198.5 495.1L210.6 487.6M222.8 466.3L210.6 473.4M222.8 466.3L234.6 474M222.8 495.1L210.6 487.6M222.8 495.1L234.6 487.9M246.2 466.3L234.6 474M246.2 466.3L258.7 473.4M246.2 495.1L234.6 487.9M246.2 495.1L258.7 487.6M270.9 466.6L258.7 473.4M270.9 466.6L282.9 473.6M270.9 495.1L258.7 487.6M270.9 495.1L282.9 487.9M232.4 368L246 368M232.4 368L228 381.5M246 368L250.2 381.5M228 381.5L234.4 386.1M250.2 381.5L243.7 386.1M214.8 385.9L228 381.5M214.8 385.9L210.3 398.7M262.8 386.4L250.2 381.5M262.8 386.4L265.7 399.9M210.3 398.7L196 401.5M196 401.5L194.9 414.8M194.9 414.8L208.5 420.3M208.5 420.3L213.7 414.3M210.3 398.7L214.4 405.3M265.7 399.9L279 405.1M279 405.1L277.7 418.5M277.7 418.5L263.6 421.5M263.6 421.5L259.5 414.8M265.7 399.9L260.4 405.8M211.3 433.7L208.5 420.3M211.3 433.7L223.6 439.3M258.9 434.1L263.6 421.5M258.9 434.1L245.8 439.3M223.6 439.3L230 434.9M245.8 439.3L239.3 434.9M223.6 439.3L227.4 453.3M245.8 439.3L241.9 453.3M227.4 453.3L241.9 453.3M227.4 453.3L222.8 466.3M241.9 453.3L246.2 466.3" stroke="#424242" stroke-width="2.1" fill="none" stroke-linecap="round"/>
<path d="M198.5 466.6L198.4 460.9M270.9 466.6L271.2 460.9M232.4 368L228.9 363.4M246 368L249.5 363.4M214.8 385.9L210.8 381.6M262.8 386.4L267.1 382.9M196 401.5L192 397.5M194.9 414.8L190.2 418M279 405.1L283.5 402M277.7 418.5L281.8 422.5M211.3 433.7L206.7 437.1M258.9 434.1L263.1 438.2" stroke="#424242" stroke-width="1.785" fill="none" stroke-linecap="round"/>
<path d="M198.4 460.9L198.4 456.2M271.2 460.9L271.4 456.2M228.9 363.4L226 359.6M249.5 363.4L252.4 359.6M210.8 381.6L207.5 378.1M267.1 382.9L270.7 380M192 397.5L188.7 394.3M190.2 418L186.3 420.7M283.5 402L287.1 399.5M281.8 422.5L285.1 425.8M206.7 437.1L202.9 439.9M263.1 438.2L266.5 441.5M239.1 394.7L239.2 399M234.6 426.4L234.6 421.9" stroke="#c4c4c4" stroke-width="1.785" fill="none" stroke-linecap="round"/>
<path d="M234.4 386.1L239 389.4M243.7 386.1L239 389.4M213.7 414.3L217.4 410M214.4 405.3L217.4 410M259.5 414.8L256.6 410M260.4 405.8L256.6 410M230 434.9L234.6 431.8M239.3 434.9L234.6 431.8" stroke="#2222d0" stroke-width="2.1" fill="none" stroke-linecap="round"/>
<path d="M239 389.4L239.1 394.7M234.6 431.8L234.6 426.4" stroke="#2222d0" stroke-width="1.785" fill="none" stroke-linecap="round"/>
<g class="hm"><circle cx="198.4" cy="456.2" r="2"/><circle cx="271.4" cy="456.2" r="2"/><circle cx="226" cy="359.6" r="2"/><circle cx="252.4" cy="359.6" r="2"/><circle cx="207.5" cy="378.1" r="2"/><circle cx="270.7" cy="380" r="2"/><circle cx="188.7" cy="394.3" r="2"/><circle cx="186.3" cy="420.7" r="2"/><circle cx="287.1" cy="399.5" r="2"/><circle cx="285.1" cy="425.8" r="2"/><circle cx="202.9" cy="439.9" r="2"/><circle cx="266.5" cy="441.5" r="2"/><circle cx="239.2" cy="399" r="2"/><circle cx="234.6" cy="421.9" r="2"/></g>
<g class="mm"><circle cx="198.5" cy="466.6" r="3"/><circle cx="198.5" cy="495.1" r="3"/><circle cx="222.8" cy="466.3" r="3"/><circle cx="222.8" cy="495.1" r="3"/><circle cx="246.2" cy="466.3" r="3"/><circle cx="246.2" cy="495.1" r="3"/><circle cx="270.9" cy="466.6" r="3"/><circle cx="270.9" cy="495.1" r="3"/><circle cx="186.6" cy="473.6" r="3"/><circle cx="186.6" cy="487.9" r="3"/><circle cx="210.6" cy="473.4" r="3"/><circle cx="210.6" cy="487.6" r="3"/><circle cx="234.6" cy="474" r="3"/><circle cx="234.6" cy="487.9" r="3"/><circle cx="258.7" cy="473.4" r="3"/><circle cx="258.7" cy="487.6" r="3"/><circle cx="282.9" cy="473.6" r="3"/><circle cx="282.9" cy="487.9" r="3"/><circle cx="232.4" cy="368" r="3"/><circle cx="246" cy="368" r="3"/><circle cx="228" cy="381.5" r="3"/><circle cx="250.2" cy="381.5" r="3"/><circle cx="214.8" cy="385.9" r="3"/><circle cx="262.8" cy="386.4" r="3"/><circle cx="210.3" cy="398.7" r="3"/><circle cx="196" cy="401.5" r="3"/><circle cx="194.9" cy="414.8" r="3"/><circle cx="208.5" cy="420.3" r="3"/><circle cx="265.7" cy="399.9" r="3"/><circle cx="279" cy="405.1" r="3"/><circle cx="277.7" cy="418.5" r="3"/><circle cx="263.6" cy="421.5" r="3"/><circle cx="211.3" cy="433.7" r="3"/><circle cx="258.9" cy="434.1" r="3"/><circle cx="223.6" cy="439.3" r="3"/><circle cx="245.8" cy="439.3" r="3"/><circle cx="227.4" cy="453.3" r="3"/><circle cx="241.9" cy="453.3" r="3"/></g>
<g class="nm"><circle cx="239" cy="389.4" r="3"/><circle cx="217.4" cy="410" r="3"/><circle cx="256.6" cy="410" r="3"/><circle cx="234.6" cy="431.8" r="3"/></g>
<path d="M342.6 495.6L342.6 504.6M368.6 495.2L368.6 504.6M394.7 495L394.7 504.6M421 495.2L421 504.6M446.6 495.6L446.6 504.6M330 473.5L325.5 470.8M330 488.2L325.5 490.9M459.1 473.5L462.6 471.2M459.1 488.2L462.6 490.5M330 473.5L330 488.2M355.5 472.9L355.5 487.8M381.7 472.2L381.7 487.2M407.4 472.2L407.4 487.2M433.3 472.9L433.3 487.8M459.1 473.5L459.1 488.2M342.6 465.6L330 473.5M342.6 465.6L355.5 472.9M342.6 495.6L330 488.2M342.6 495.6L355.5 487.8M368.6 464.5L355.5 472.9M368.6 464.5L381.7 472.2M368.6 495.2L355.5 487.8M368.6 495.2L381.7 487.2M394.7 464.5L381.7 472.2M394.7 464.5L407.4 472.2M394.7 495L381.7 487.2M394.7 495L407.4 487.2M421 464.5L407.4 472.2M421 464.5L433.3 472.9M421 495.2L407.4 487.2M421 495.2L433.3 487.8M446.6 466L433.3 472.9M446.6 466L459.1 473.5M446.6 495.6L433.3 487.8M446.6 495.6L459.1 488.2M368.6 449.4L368.6 464.5M394.7 449.8L394.7 464.5M421 449.2L421 464.5M368.6 449.4L382 442.2M382 442.2L394.7 449.8M394.7 449.8L407.5 442.1M407.5 442.1L421 449.2M382 442.2L380.9 434M365.9 425.1L374.1 426.8M365.9 425.1L358.5 438M358.5 438L368.6 449.4M407.5 442.1L408.1 433.8M423.4 424.7L414.8 426.5M423.4 424.7L431 438.1M431 438.1L421 449.2M360.2 411.6L365.9 425.1M429.8 411.9L423.4 424.7M381.9 381L368.2 374.2M368.2 374.2L358.4 385.6M358.4 385.6L366.4 398.6M366.4 398.6L374.8 397M381.9 381L381.3 389.6M407.7 381L421.8 374.2M421.8 374.2L432.1 385.6M432.1 385.6L423.4 398.6M423.4 398.6L415.2 396.7M407.7 381L408.6 389.4M394.9 374.2L381.9 381M394.9 374.2L407.7 381M360.2 411.6L366.4 398.6M429.8 411.9L423.4 398.6" stroke="#424242" stroke-width="2.3" fill="none" stroke-linecap="round"/>
<path d="M342.6 465.6L342.1 459.4M446.6 466L446.7 459.7M358.5 438L352.2 437.8M431 438.1L437 438.1M360.2 411.6L353.7 411.6M429.8 411.9L436.1 411.9M368.2 374.2L367.6 368.3M358.4 385.6L352.2 385.2M421.8 374.2L423.1 368.3M432.1 385.6L438.2 385.2M394.9 374.2L394.9 367.9" stroke="#424242" stroke-width="1.9549999999999998" fill="none" stroke-linecap="round"/>
<path d="M342.1 459.4L341.7 454.3M446.7 459.7L446.8 454.6M352.2 437.8L347 437.7M384.8 424.6L388.7 421.7M437 438.1L441.9 438.1M353.7 411.6L348.3 411.6M436.1 411.9L441.2 411.9M367.6 368.3L367.1 363.5M352.2 385.2L347.2 384.9M423.1 368.3L424.1 363.5M438.2 385.2L443.1 384.9M404.9 398.8L401.3 401.6M394.9 367.9L394.9 362.8" stroke="#c4c4c4" stroke-width="1.9549999999999998" fill="none" stroke-linecap="round"/>
<path d="M380.9 434L380.1 428.1M374.1 426.8L380.1 428.1M408.1 433.8L408.6 427.8M414.8 426.5L408.6 427.8M374.8 397L380.8 395.9M381.3 389.6L380.8 395.9M415.2 396.7L409.3 395.4M408.6 389.4L409.3 395.4" stroke="#2222d0" stroke-width="2.3" fill="none" stroke-linecap="round"/>
<path d="M380.1 428.1L384.8 424.6M409.3 395.4L404.9 398.8" stroke="#2222d0" stroke-width="1.9549999999999998" fill="none" stroke-linecap="round"/>
<g class="hb"><circle cx="341.7" cy="454.3" r="2.1"/><circle cx="446.8" cy="454.6" r="2.1"/><circle cx="388.7" cy="421.7" r="2.1"/><circle cx="347" cy="437.7" r="2.1"/><circle cx="441.9" cy="438.1" r="2.1"/><circle cx="348.3" cy="411.6" r="2.1"/><circle cx="441.2" cy="411.9" r="2.1"/><circle cx="367.1" cy="363.5" r="2.1"/><circle cx="347.2" cy="384.9" r="2.1"/><circle cx="401.3" cy="401.6" r="2.1"/><circle cx="424.1" cy="363.5" r="2.1"/><circle cx="443.1" cy="384.9" r="2.1"/><circle cx="394.9" cy="362.8" r="2.1"/></g>
<g class="mb"><circle cx="342.6" cy="465.6" r="3.3"/><circle cx="342.6" cy="495.6" r="3.3"/><circle cx="368.6" cy="464.5" r="3.3"/><circle cx="368.6" cy="495.2" r="3.3"/><circle cx="394.7" cy="464.5" r="3.3"/><circle cx="394.7" cy="495" r="3.3"/><circle cx="421" cy="464.5" r="3.3"/><circle cx="421" cy="495.2" r="3.3"/><circle cx="446.6" cy="466" r="3.3"/><circle cx="446.6" cy="495.6" r="3.3"/><circle cx="330" cy="473.5" r="3.3"/><circle cx="330" cy="488.2" r="3.3"/><circle cx="355.5" cy="472.9" r="3.3"/><circle cx="355.5" cy="487.8" r="3.3"/><circle cx="381.7" cy="472.2" r="3.3"/><circle cx="381.7" cy="487.2" r="3.3"/><circle cx="407.4" cy="472.2" r="3.3"/><circle cx="407.4" cy="487.2" r="3.3"/><circle cx="433.3" cy="472.9" r="3.3"/><circle cx="433.3" cy="487.8" r="3.3"/><circle cx="459.1" cy="473.5" r="3.3"/><circle cx="459.1" cy="488.2" r="3.3"/><circle cx="368.6" cy="449.4" r="3.3"/><circle cx="394.7" cy="449.8" r="3.3"/><circle cx="421" cy="449.2" r="3.3"/><circle cx="382" cy="442.2" r="3.3"/><circle cx="407.5" cy="442.1" r="3.3"/><circle cx="365.9" cy="425.1" r="3.3"/><circle cx="358.5" cy="438" r="3.3"/><circle cx="423.4" cy="424.7" r="3.3"/><circle cx="431" cy="438.1" r="3.3"/><circle cx="360.2" cy="411.6" r="3.3"/><circle cx="429.8" cy="411.9" r="3.3"/><circle cx="381.9" cy="381" r="3.3"/><circle cx="368.2" cy="374.2" r="3.3"/><circle cx="358.4" cy="385.6" r="3.3"/><circle cx="366.4" cy="398.6" r="3.3"/><circle cx="407.7" cy="381" r="3.3"/><circle cx="421.8" cy="374.2" r="3.3"/><circle cx="432.1" cy="385.6" r="3.3"/><circle cx="423.4" cy="398.6" r="3.3"/><circle cx="394.9" cy="374.2" r="3.3"/></g>
<g class="nb"><circle cx="380.1" cy="428.1" r="3.3"/><circle cx="408.6" cy="427.8" r="3.3"/><circle cx="380.8" cy="395.9" r="3.3"/><circle cx="409.3" cy="395.4" r="3.3"/></g>
<path d="M517.4 494.9L517.4 505.5M544.1 494.6L544.1 505.5M570 494.6L570 505.5M596.7 494.6L596.7 505.5M623.4 494.4L623.4 505.5M649.9 494.4L649.9 505.5M504.2 472.1L499.7 469.2M504.2 487L499.7 489.9M662.9 471.8L669.7 467.8M662.9 486.5L669.7 490.5M504.2 472.1L504.2 487M530.6 471.4L530.6 486.6M556.9 471.5L556.9 486.5M583.6 471.5L583.6 486.5M610.3 471.5L610.3 486.5M636.5 471.4L636.5 486.4M662.9 471.8L662.9 486.5M517.4 464.2L504.2 472.1M517.4 464.2L530.6 471.4M517.4 494.9L504.2 487M517.4 494.9L530.6 486.6M544.1 463.1L530.6 471.4M544.1 463.1L556.9 471.5M544.1 494.6L530.6 486.6M544.1 494.6L556.9 486.5M570 463.4L556.9 471.5M570 463.4L583.6 471.5M570 494.6L556.9 486.5M570 494.6L583.6 486.5M596.7 463.1L583.6 471.5M596.7 463.1L610.3 471.5M596.7 494.6L583.6 486.5M596.7 494.6L610.3 486.5M623.4 462.9L610.3 471.5M623.4 462.9L636.5 471.4M623.4 494.4L610.3 486.5M623.4 494.4L636.5 486.4M649.9 464L636.5 471.4M649.9 464L662.9 471.8M649.9 494.4L636.5 486.4M649.9 494.4L662.9 486.5M544.1 447.9L544.1 463.1M569.9 449.5L570 463.4M595.9 447.9L596.7 463.1M623.2 446.8L623.4 462.9M544.1 447.9L557.8 441.1M557.8 441.1L569.9 449.5M569.9 449.5L582.4 441.1M582.4 441.1L595.9 447.9M595.9 447.9L609.2 439.9M609.2 439.9L623.2 446.8M623.2 446.8L633.1 435.8M633.1 435.8L624.7 422.4M624.7 422.4L616.1 424M609.2 439.9L609.5 431.3M557.8 441.1L562.6 425.8M562.6 425.8L571.2 426.4M582.4 441.1L579.5 432.9M555.5 413L562.6 425.8M631.5 408.6L624.7 422.4M577.9 382.6L563.5 374.2M563.5 374.2L552.8 386M552.8 386L561.9 399.3M561.9 399.3L569.8 398.4M577.9 382.6L576.6 391.4M604.1 380.3L617.8 371.9M617.8 371.9L628.8 381M628.8 381L623.1 395.9M623.1 395.9L614.7 394.6M604.1 380.3L606.8 388M590.4 374.2L577.9 382.6M590.4 374.2L604.1 380.3M555.5 413L561.9 399.3M631.5 408.6L623.1 395.9" stroke="#424242" stroke-width="2.3" fill="none" stroke-linecap="round"/>
<path d="M517.4 464.2L517 458M649.9 464L650.1 458.1M544.1 447.9L539.1 444.5M633.1 435.8L639.4 435.8M555.5 413L549 413.3M631.5 408.6L637.8 408.4M563.5 374.2L562.6 368.3M552.8 386L546.9 385.4M617.8 371.9L618.1 365.6M628.8 381L635.1 379.7M590.4 374.2L590.2 367.9" stroke="#424242" stroke-width="1.9549999999999998" fill="none" stroke-linecap="round"/>
<path d="M517 458L516.7 453M650.1 458.1L650.2 453.2M539.1 444.5L535 441.8M639.4 435.8L644.5 435.8M580.5 421.2L583.1 416.5M549 413.3L543.6 413.5M637.8 408.4L642.9 408.2M562.6 368.3L561.9 363.5M546.9 385.4L542 384.9M618.1 365.6L618.3 360.5M635.1 379.7L640.2 378.7M605.2 399.3L602.3 403.9M590.2 367.9L590 362.8" stroke="#c4c4c4" stroke-width="1.9549999999999998" fill="none" stroke-linecap="round"/>
<path d="M616.1 424L609.8 425.1M609.5 431.3L609.8 425.1M571.2 426.4L577.4 426.9M579.5 432.9L577.4 426.9M569.8 398.4L575.6 397.7M576.6 391.4L575.6 397.7M614.7 394.6L608.7 393.6M606.8 388L608.7 393.6" stroke="#2222d0" stroke-width="2.3" fill="none" stroke-linecap="round"/>
<path d="M577.4 426.9L580.5 421.2M608.7 393.6L605.2 399.3" stroke="#2222d0" stroke-width="1.9549999999999998" fill="none" stroke-linecap="round"/>
<g class="hb"><circle cx="516.7" cy="453" r="2.1"/><circle cx="650.2" cy="453.2" r="2.1"/><circle cx="535" cy="441.8" r="2.1"/><circle cx="644.5" cy="435.8" r="2.1"/><circle cx="583.1" cy="416.5" r="2.1"/><circle cx="543.6" cy="413.5" r="2.1"/><circle cx="642.9" cy="408.2" r="2.1"/><circle cx="561.9" cy="363.5" r="2.1"/><circle cx="542" cy="384.9" r="2.1"/><circle cx="602.3" cy="403.9" r="2.1"/><circle cx="618.3" cy="360.5" r="2.1"/><circle cx="640.2" cy="378.7" r="2.1"/><circle cx="590" cy="362.8" r="2.1"/></g>
<g class="mb"><circle cx="517.4" cy="464.2" r="3.3"/><circle cx="517.4" cy="494.9" r="3.3"/><circle cx="544.1" cy="463.1" r="3.3"/><circle cx="544.1" cy="494.6" r="3.3"/><circle cx="570" cy="463.4" r="3.3"/><circle cx="570" cy="494.6" r="3.3"/><circle cx="596.7" cy="463.1" r="3.3"/><circle cx="596.7" cy="494.6" r="3.3"/><circle cx="623.4" cy="462.9" r="3.3"/><circle cx="623.4" cy="494.4" r="3.3"/><circle cx="649.9" cy="464" r="3.3"/><circle cx="649.9" cy="494.4" r="3.3"/><circle cx="504.2" cy="472.1" r="3.3"/><circle cx="504.2" cy="487" r="3.3"/><circle cx="530.6" cy="471.4" r="3.3"/><circle cx="530.6" cy="486.6" r="3.3"/><circle cx="556.9" cy="471.5" r="3.3"/><circle cx="556.9" cy="486.5" r="3.3"/><circle cx="583.6" cy="471.5" r="3.3"/><circle cx="583.6" cy="486.5" r="3.3"/><circle cx="610.3" cy="471.5" r="3.3"/><circle cx="610.3" cy="486.5" r="3.3"/><circle cx="636.5" cy="471.4" r="3.3"/><circle cx="636.5" cy="486.4" r="3.3"/><circle cx="662.9" cy="471.8" r="3.3"/><circle cx="662.9" cy="486.5" r="3.3"/><circle cx="544.1" cy="447.9" r="3.3"/><circle cx="557.8" cy="441.1" r="3.3"/><circle cx="569.9" cy="449.5" r="3.3"/><circle cx="582.4" cy="441.1" r="3.3"/><circle cx="595.9" cy="447.9" r="3.3"/><circle cx="609.2" cy="439.9" r="3.3"/><circle cx="623.2" cy="446.8" r="3.3"/><circle cx="633.1" cy="435.8" r="3.3"/><circle cx="562.6" cy="425.8" r="3.3"/><circle cx="624.7" cy="422.4" r="3.3"/><circle cx="555.5" cy="413" r="3.3"/><circle cx="631.5" cy="408.6" r="3.3"/><circle cx="577.9" cy="382.6" r="3.3"/><circle cx="563.5" cy="374.2" r="3.3"/><circle cx="552.8" cy="386" r="3.3"/><circle cx="561.9" cy="399.3" r="3.3"/><circle cx="604.1" cy="380.3" r="3.3"/><circle cx="617.8" cy="371.9" r="3.3"/><circle cx="628.8" cy="381" r="3.3"/><circle cx="623.1" cy="395.9" r="3.3"/><circle cx="590.4" cy="374.2" r="3.3"/></g>
<g class="nb"><circle cx="577.4" cy="426.9" r="3.3"/><circle cx="609.8" cy="425.1" r="3.3"/><circle cx="575.6" cy="397.7" r="3.3"/><circle cx="608.7" cy="393.6" r="3.3"/></g>
<text class="sf"><tspan x="43.8" y="102" font-size="20.8">V</tspan><tspan x="58.6" y="102.3" font-size="12.2">L</tspan></text>
<text class="sf"><tspan x="614.3" y="102.1" font-size="20.8">V</tspan><tspan x="629" y="102.3" font-size="12.2">R</tspan></text>
<text class="sf"><tspan x="419.9" y="100.6" font-size="21">V</tspan><tspan x="435.1" y="100.6" font-size="20.5" font-style="italic">g</tspan></text>
<text class="sf it"><tspan x="40.4" y="268.1" font-size="15.3">Left </tspan><tspan x="23.6" y="281.2" font-size="15" letter-spacing="0.29">electrode</tspan></text>
<text class="sf it"><tspan x="608.7" y="267.9" font-size="15.3">Right </tspan><tspan x="596.6" y="281.2" font-size="15" letter-spacing="0.28">electrode</tspan></text>
<g class="sf" font-size="23.5"><text transform="translate(33.7 31.3) scale(1.033 1)">(a)</text><text x="33.9" y="333.2">(b)</text><text x="188.2" y="333.2">(c)</text><text transform="translate(332.6 333.2) scale(1.040 1)">(d)</text><text transform="translate(505.4 333.2) scale(1.062 1)">(e)</text></g>
<g class="sf" font-size="17.2"><text x="157.8" y="53.4">y</text></g>
<g class="sf" font-size="18"><text x="190.9" y="87.6">z</text><text transform="translate(84.3 350.9) scale(0.952 1)">M1</text><text x="228.8" y="350.9">M2</text><text x="382.1" y="350.9">M3</text><text x="578.2" y="350.9">M4</text></g>
<g class="sf" font-size="10.8" fill="#bb3ccc"><text transform="translate(359.4 63.4) scale(1.056 1)">meso-</text></g>
<g class="sf" font-size="13" fill="#cf3a36"><text x="368.2" y="86.9">β-</text></g>
<g class="sf it" font-size="13"><text x="147.1" y="248.9">Left buffer</text><text x="464.6" y="249.7">Right buffer</text></g>
<g class="sf it" font-size="15"><text transform="translate(282.9 282.1) scale(1.029 1)" xml:space="preserve">Scattering  region</text></g>
<g class="sf" font-size="11.6" fill="#000" stroke="#000" stroke-width="0.15"><text x="87.4" y="444.1">5</text><text x="74.7" y="456.8">2</text><text x="100.4" y="456.9">3</text><text x="231.7" y="444.1">5</text><text x="219" y="456.8">2</text><text x="244.7" y="456.9">3</text><text x="352.2" y="436.4">2</text><text x="370.9" y="438.5">5</text><text x="359.6" y="456.3">3</text><text x="391.9" y="444.8">6</text><text x="409.9" y="438">11</text><text x="430.6" y="433.6">9</text><text x="424.4" y="454.5">8</text><text x="550.4" y="437.6">2</text><text x="570.3" y="438">5</text><text x="563.1" y="458.1">3</text><text x="592" y="443.3">6</text><text x="611.1" y="435.8">11</text><text x="632.7" y="432.3">9</text><text x="626.1" y="454">8</text></g>
<g class="ss" font-size="10.3" fill="#000" stroke="#000" stroke-width="0.3"><text x="86.8" y="470.2">B</text><text x="75.1" y="478.1">A</text><text x="98.9" y="478.1">A</text><text x="231.1" y="470.2">B</text><text x="219.4" y="478.1">A</text><text x="243.2" y="478.1">A</text><text x="378.3" y="468.1">B</text><text x="404.1" y="468.1">B</text><text x="365.3" y="477.3">A</text><text x="391.5" y="477.3">A</text><text x="417.8" y="477.3">A</text><text x="540.5" y="444.1">B</text><text x="553.3" y="466.4">B</text><text x="580" y="466.4">B</text><text x="606.7" y="466.4">B</text><text x="540.2" y="476.1">A</text><text x="566.5" y="476.1">A</text><text x="593.9" y="476.1">A</text><text x="620.8" y="476.1">A</text></g>
</svg>
</body></html>
